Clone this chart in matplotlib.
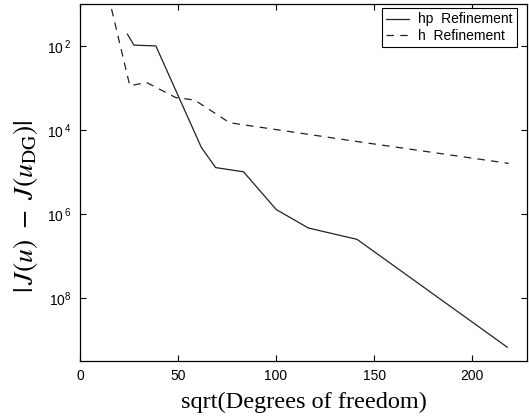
import numpy as np
import matplotlib
matplotlib.use("Agg")
import matplotlib.pyplot as plt
from matplotlib.ticker import FixedLocator, FixedFormatter, NullLocator

# data (sqrt(DOF), error)
hp_x = [24.2, 27.5, 38.7, 61.9, 69.2, 83.4, 100.1, 116.5, 141.3, 217.9]
hp_logy = [-1.71, -1.97, -1.99, -4.41, -4.89, -4.99, -5.89, -6.33, -6.60, -9.17]
h_x = [16.1, 25.4, 33.9, 48.8, 58.5, 76.3, 135.7, 218.7]
h_logy = [-1.11, -2.94, -2.86, -3.22, -3.28, -3.82, -4.23, -4.79]
xticks = [0, 50, 100, 150, 200]
yticks = [1e-2, 1e-4, 1e-6, 1e-8]
ytick_labels = [r'$\mathregular{10^{\ 2}}$', r'$\mathregular{10^{\ 4}}$',
                r'$\mathregular{10^{\ 6}}$', r'$\mathregular{10^{8}}$']

plt.rcParams['font.family'] = ['Liberation Sans', 'DejaVu Sans']
plt.rcParams['mathtext.fontset'] = 'stix'

fig = plt.figure(figsize=(5.29, 4.19), dpi=100)
ax = fig.add_axes([80/529, 1-361/419, 447/529, 357/419])

ax.plot(hp_x, 10**np.array(hp_logy), color='#222222', lw=0.9, ls='-', label='hp  Refinement')
ax.plot(h_x, 10**np.array(h_logy), color='#222222', lw=0.9, ls=(0, (6, 5)), label='h  Refinement')

ax.set_yscale('log')
ax.set_xlim(0, 228)
ax.set_ylim(10**-9.5, 10**-0.99)
ax.xaxis.set_major_locator(FixedLocator(xticks))
ax.yaxis.set_major_locator(FixedLocator(yticks))
ax.yaxis.set_major_formatter(FixedFormatter(ytick_labels))
ax.yaxis.set_minor_locator(NullLocator())
ax.tick_params(direction='in', length=4, width=0.8, top=True, right=True, labelsize=10, pad=6)
for s in ax.spines.values():
    s.set_linewidth(0.9)

ax.set_xlabel('sqrt(Degrees of freedom)', fontsize=17.5, family='Liberation Serif', labelpad=6)
ax.set_ylabel(r'$|\,J(u)\ -\ J(u_{\mathrm{DG}})|$', fontsize=20)
ax.yaxis.set_label_coords(-0.089, 0.434)

leg = ax.legend(loc='upper right', bbox_to_anchor=(0.978, 0.988), borderaxespad=0,
                fontsize=10, frameon=True, fancybox=False,
                edgecolor='black', framealpha=1, handlelength=1.65, borderpad=0.3,
                labelspacing=0.15, handletextpad=0.7)
leg.get_frame().set_linewidth(0.8)

fig.savefig('out.png', dpi=100)
